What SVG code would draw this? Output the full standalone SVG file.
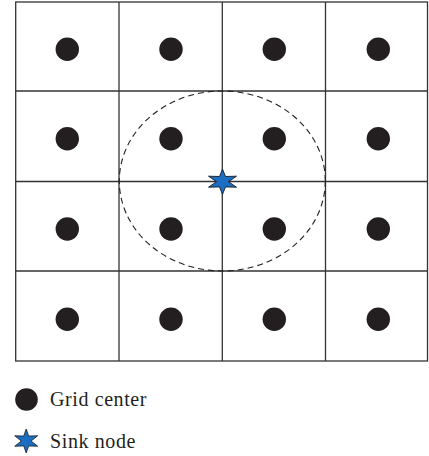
<svg xmlns="http://www.w3.org/2000/svg" width="429" height="456" viewBox="0 0 429 456">
<style>
.grid{stroke:#333;stroke-width:1.3;fill:none}
.dot{fill:#231f20}
.star{fill:#1b6ec2;stroke:#1a1a1a;stroke-width:0.9;stroke-linejoin:miter}
.lbl{font-family:"Liberation Serif","Times New Roman",serif;font-size:20px;letter-spacing:0.6px;fill:#231f20}
</style>
<defs>
<polygon id="starShape" points="0,-12.6 3,-5.2 14,-5.5 6,0 14,5.5 3,5.2 0,12.6 -3,5.2 -14,5.5 -6,0 -14,-5.5 -3,-5.2"/>
</defs>
<g id="grid">
<rect class="grid" x="15.7" y="2" width="411.8" height="359"/>
<line class="grid" x1="119" y1="2" x2="119" y2="361"/>
<line class="grid" x1="222.3" y1="2" x2="222.3" y2="361"/>
<line class="grid" x1="325.5" y1="2" x2="325.5" y2="361"/>
<line class="grid" x1="15.7" y1="91" x2="427.5" y2="91"/>
<line class="grid" x1="15.7" y1="181.5" x2="427.5" y2="181.5"/>
<line class="grid" x1="15.7" y1="271" x2="427.5" y2="271"/>
</g>
<g id="range">
<ellipse cx="222.3" cy="181" rx="103" ry="90" fill="none" stroke="#231f20" stroke-width="1.1" stroke-dasharray="6,4"/>
</g>
<g id="centers">
<circle class="dot" cx="67.3" cy="49.3" r="11.7"/><circle class="dot" cx="171" cy="49.3" r="11.7"/><circle class="dot" cx="274.3" cy="49.3" r="11.7"/><circle class="dot" cx="378.3" cy="49.3" r="11.7"/>
<circle class="dot" cx="67.3" cy="138.7" r="11.7"/><circle class="dot" cx="171" cy="138.7" r="11.7"/><circle class="dot" cx="274.3" cy="138.7" r="11.7"/><circle class="dot" cx="378.3" cy="138.7" r="11.7"/>
<circle class="dot" cx="67.3" cy="229" r="11.7"/><circle class="dot" cx="171" cy="229" r="11.7"/><circle class="dot" cx="274.3" cy="229" r="11.7"/><circle class="dot" cx="378.3" cy="229" r="11.7"/>
<circle class="dot" cx="67.3" cy="319.3" r="11.7"/><circle class="dot" cx="171" cy="319.3" r="11.7"/><circle class="dot" cx="274.3" cy="319.3" r="11.7"/><circle class="dot" cx="378.3" cy="319.3" r="11.7"/>
</g>
<g id="sink">
<use href="#starShape" class="star" transform="translate(222.5,181.7)"/>
</g>
<g id="legend">
<circle class="dot" cx="26.5" cy="399.5" r="11.3"/>
<text class="lbl" x="50" y="406">Grid center</text>
<use href="#starShape" class="star" transform="translate(26.2,441) scale(0.82,0.95)"/>
<text class="lbl" x="50" y="447.5">Sink node</text>
</g>
</svg>
